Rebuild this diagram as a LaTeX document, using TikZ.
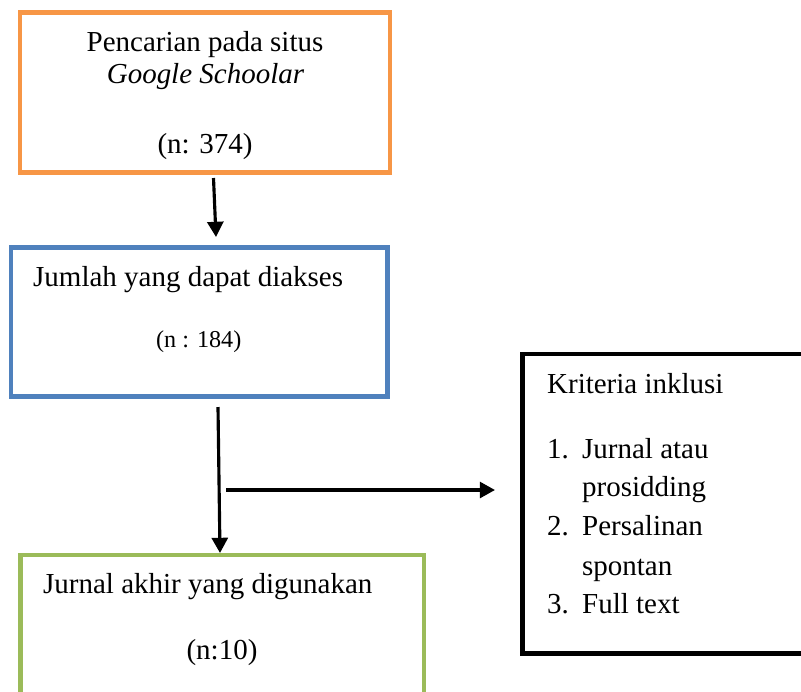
\documentclass[tikz,border=0pt]{standalone}
\usepackage{fontspec}
\setmainfont{Liberation Serif}
\usetikzlibrary{arrows.meta, calc}
\definecolor{boxorange}{HTML}{F79646}
\definecolor{boxblue}{HTML}{4F81BD}
\definecolor{boxgreen}{HTML}{9BBB59}
\tikzset{
  box/.style={rectangle, draw, line width=1.9pt, inner sep=0pt, outer sep=0pt},
  txt/.style={inner sep=0pt, font=\fontsize{12}{14}\selectfont},
  smalltxt/.style={inner sep=0pt, font=\fontsize{10}{12}\selectfont},
  arrow/.style={draw, line width=1.3pt, -{Triangle[width=6.6pt,length=6.3pt]}}
}
\begin{document}
\begin{tikzpicture}[x=0.414pt, y=-0.414pt]
            \useasboundingbox (0,0) rectangle (801,691);
            \clip (0,0) rectangle (801,691);
            % Boxes
            \node[box, draw=boxorange, minimum width=370*0.414pt, minimum height=160*0.414pt] (search) at (205,92.5) {};
            \node[box, draw=boxblue, minimum width=376.5*0.414pt, minimum height=149.2*0.414pt] (access) at (199.25,322.1) {};
            \node[box, draw=boxgreen, minimum width=403.5*0.414pt, minimum height=205*0.414pt] (final) at (222.25,657.5) {};
            \node[box, draw=black, minimum width=377.5*0.414pt, minimum height=299.5*0.414pt] (criteria) at (711.25,503.75) {};

            % Texts
            \node[txt, anchor=base] (searchA) at (205,51) {Pencarian pada situs};
            \node[txt, anchor=base] (searchB) at (205.5,83) {\textit{Google Schoolar}};
            \node[txt, anchor=base] (searchN) at (205,153) {(n: 374)};
            \node[txt, anchor=base west] (accessA) at (32.7,286.7) {Jumlah yang dapat diakses};
            \node[smalltxt, anchor=base] (accessN) at (198.7,347) {(n : 184)};
            \node[txt, anchor=base west] (finalA) at (42.7,593) {Jurnal akhir yang digunakan};
            \node[txt, anchor=base] (finalN) at (222,659) {(n:10)};
            \node[txt, anchor=base west] (critTitle) at (546.7,393.3) {Kriteria inklusi};
            \foreach \num/\y in {1/458.3, 2/535, 3/613.3}
              \node[txt, anchor=base west] (num\num) at (546.7,\y) {\num.};
            \foreach \line/\y [count=\i] in {Jurnal atau/458.3, prosidding/496.7, Persalinan/535, spontan/575, Full text/613.3}
              \node[txt, anchor=base west] (item\i) at (581.7,\y) {\line};

            % Edges
            \coordinate (branch) at (226,490);
            \draw[arrow] ($(search.south)+(8.5,5.5)$) -- ($(access.north)+(16.75,-10.5)$);
            \draw[arrow] ($(access.south)+(18.75,10.3)$) -- ($(final.north)+(-2.25,-2)$);
            \draw[arrow] (branch) -- ($(criteria.west)+(-27.5,-13.75)$);
        \end{tikzpicture}
\end{document}
